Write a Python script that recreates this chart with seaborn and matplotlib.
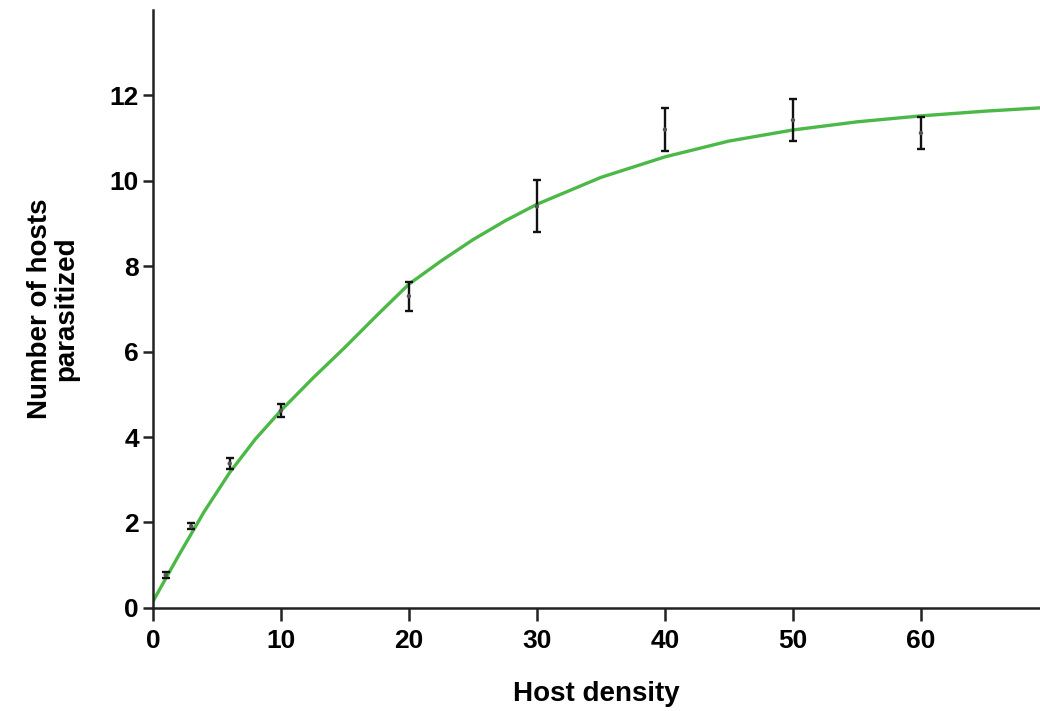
import numpy as np
import pandas as pd
import matplotlib
matplotlib.use("Agg")
import matplotlib.pyplot as plt
import seaborn as sns

# observed means and standard errors
host_density = [1, 3, 6, 10, 20, 30, 40, 50, 60]
parasitized = [0.77, 1.91, 3.38, 4.62, 7.30, 9.40, 11.20, 11.42, 11.12]
std_err = [0.07, 0.07, 0.12, 0.15, 0.34, 0.61, 0.51, 0.49, 0.38]

# fitted curve
fit_x = [0, 2, 4, 6, 8, 10, 12.5, 15, 17.5, 20, 22.5, 25, 27.5, 30, 35, 40,
         45, 50, 55, 60, 65, 70]
fit_y = [0.15, 1.22, 2.25, 3.17, 3.95, 4.62, 5.38, 6.1, 6.85, 7.58, 8.12, 8.62,
         9.06, 9.45, 10.08, 10.56, 10.93, 11.19, 11.38, 11.52, 11.63, 11.72]

sns.set_style("ticks")
plt.rcParams['font.family'] = ['Liberation Sans', 'DejaVu Sans']
plt.rcParams['font.weight'] = 'bold'

fig = plt.figure(figsize=(10.4, 7.11), dpi=100)
ax = fig.add_axes([0.147, 0.145, 0.853, 0.841])

curve = pd.DataFrame({'x': fit_x, 'y': fit_y})
sns.lineplot(data=curve, x='x', y='y', color='#4cb848', linewidth=2.4, ax=ax)

ax.errorbar(host_density, parasitized, yerr=std_err, fmt='none',
            ecolor='#111111', elinewidth=1.7, capsize=3, capthick=1.7, zorder=3)
sns.scatterplot(x=host_density, y=parasitized, color='#555555', s=10,
                edgecolor='none', ax=ax, zorder=4)

ax.set_xlim(0, 69.3)
ax.set_ylim(0, 14)
ax.set_xticks(range(0, 61, 10))
ax.set_yticks(range(0, 13, 2))

sns.despine(ax=ax)
for s in ['left', 'bottom']:
    ax.spines[s].set_linewidth(1.8)
    ax.spines[s].set_color('#222222')
ax.tick_params(axis='both', width=1.8, color='#222222', labelcolor='black',
               labelsize=19)
ax.tick_params(axis='x', length=9, pad=6)
ax.tick_params(axis='y', length=7, pad=3)
for lab in ax.get_xticklabels() + ax.get_yticklabels():
    lab.set_fontweight('bold')

ax.set_xlabel('Host density', fontsize=20, fontweight='bold', labelpad=20,
              color='black')
ax.set_ylabel('Number of hosts\nparasitized', fontsize=20, fontweight='bold',
              labelpad=22, linespacing=1.0, color='black')

fig.savefig('out.png', dpi=100)
